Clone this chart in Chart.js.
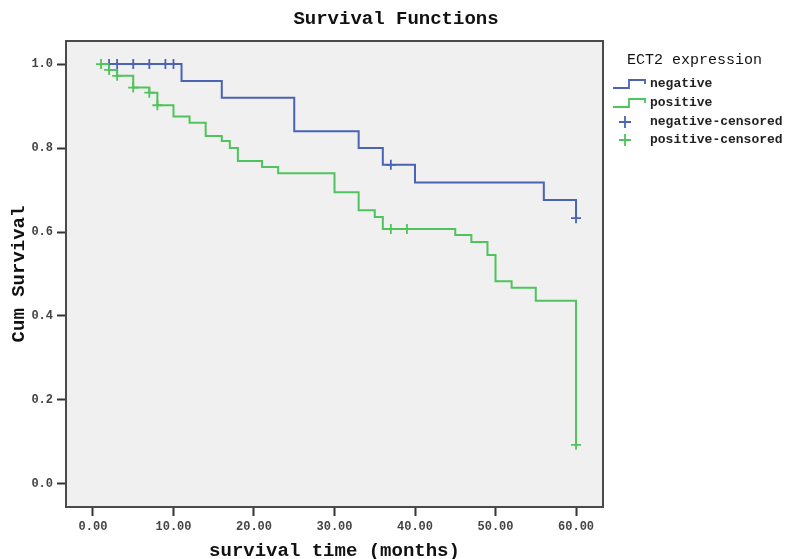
<!DOCTYPE html>
<html>
<head>
<meta charset="utf-8">
<title>Survival Functions</title>
<script src="https://cdn.jsdelivr.net/npm/chart.js@4.4.1/dist/chart.umd.min.js"></script>
<style>
  body { margin: 0; background: #fff; }
  #wrap { width: 788px; height: 559px; }
</style>
</head>
<body>
<div id="wrap"><canvas id="km" width="788" height="559"></canvas></div>
<script>
// Kaplan-Meier steps (time in months, cum survival)
const negTime = [2, 11, 16, 25, 33, 36, 40, 56, 60];
const negSurv = [1.0, 0.96, 0.92, 0.84, 0.80, 0.76, 0.718, 0.676, 0.633];
const posTime = [1, 2, 3, 5, 7, 8, 10, 12, 14, 16, 17, 18, 21, 23, 30, 33, 35, 36, 45, 47, 49, 50, 52, 55, 60];
const posSurv = [1.0, 0.986, 0.972, 0.944, 0.932, 0.902, 0.875, 0.86, 0.829, 0.817, 0.80, 0.769, 0.755, 0.74, 0.695, 0.652, 0.636, 0.607, 0.593, 0.576, 0.545, 0.483, 0.467, 0.436, 0.093];

// censored cases
const negCensTime = [2, 3, 5, 7, 9, 10, 37, 60];
const negCensSurv = [1.0, 1.0, 1.0, 1.0, 1.0, 1.0, 0.76, 0.633];
const posCensTime = [1, 2, 3, 5, 7, 8, 37, 39, 60];
const posCensSurv = [1.0, 0.986, 0.972, 0.944, 0.932, 0.902, 0.607, 0.607, 0.093];

const xTicks = [0, 10, 20, 30, 40, 50, 60];
const yTicks = [0, 0.2, 0.4, 0.6, 0.8, 1.0];

const negColor = "#4a63b5";
const posColor = "#4fc35c";

const toPts = (xs, ys) => xs.map((x, i) => ({ x: x, y: ys[i] }));

Chart.defaults.font.family = "'Liberation Mono', 'DejaVu Sans Mono', monospace";
Chart.defaults.color = "#333";

// background, frame, title and legend (SPSS look)
const spssLook = {
  id: "spssLook",
  beforeDatasetsDraw(chart) {
    const { ctx, chartArea: a } = chart;
    ctx.save();
    ctx.fillStyle = "#f0f0f0";
    ctx.fillRect(a.left, a.top, a.right - a.left, a.bottom - a.top);
    ctx.restore();
  },
  afterDraw(chart) {
    const { ctx, chartArea: a } = chart;
    ctx.save();
    // frame
    ctx.strokeStyle = "#4a4a4a";
    ctx.lineWidth = 2;
    ctx.strokeRect(a.left, a.top, a.right - a.left, a.bottom - a.top);

    // title
    ctx.fillStyle = "#111";
    ctx.textAlign = "center";
    ctx.textBaseline = "middle";
    ctx.font = "bold 19px 'Liberation Mono'";
    ctx.fillText("Survival Functions", 396, 19);

    // legend
    ctx.textAlign = "left";
    ctx.font = "15px 'Liberation Mono'";
    ctx.fillText("ECT2 expression", 627, 60);

    ctx.font = "bold 13px 'Liberation Mono'";
    const items = [
      { label: "negative", color: negColor, step: true, y: 84 },
      { label: "positive", color: posColor, step: true, y: 103 },
      { label: "negative-censored", color: negColor, step: false, y: 122 },
      { label: "positive-censored", color: posColor, step: false, y: 140 }
    ];
    items.forEach(it => {
      ctx.strokeStyle = it.color;
      ctx.lineWidth = 1.8;
      ctx.beginPath();
      if (it.step) {
        ctx.moveTo(613, it.y + 4);
        ctx.lineTo(629, it.y + 4);
        ctx.lineTo(629, it.y - 4);
        ctx.lineTo(645, it.y - 4);
        ctx.lineTo(645, it.y);
      } else {
        ctx.moveTo(619, it.y);
        ctx.lineTo(631, it.y);
        ctx.moveTo(625, it.y - 6);
        ctx.lineTo(625, it.y + 6);
      }
      ctx.stroke();
      ctx.fillStyle = "#222";
      ctx.fillText(it.label, 650, it.y);
    });
    ctx.restore();
  }
};

new Chart(document.getElementById("km"), {
  type: "line",
  data: {
    datasets: [
      {
        label: "negative",
        data: toPts(negTime, negSurv),
        borderColor: negColor,
        borderWidth: 2,
        stepped: true,
        pointRadius: 0,
        fill: false
      },
      {
        label: "positive",
        data: toPts(posTime, posSurv),
        borderColor: posColor,
        borderWidth: 2,
        stepped: true,
        pointRadius: 0,
        fill: false
      },
      {
        label: "negative-censored",
        data: toPts(negCensTime, negCensSurv),
        showLine: false,
        pointStyle: "cross",
        pointRadius: 5,
        pointBorderWidth: 1.8,
        borderColor: negColor,
        backgroundColor: negColor
      },
      {
        label: "positive-censored",
        data: toPts(posCensTime, posCensSurv),
        showLine: false,
        pointStyle: "cross",
        pointRadius: 5,
        pointBorderWidth: 1.8,
        borderColor: posColor,
        backgroundColor: posColor
      }
    ]
  },
  options: {
    responsive: false,
    animation: false,
    layout: { padding: { top: 41, right: 185, left: 0, bottom: 0 } },
    plugins: {
      legend: { display: false },
      tooltip: { enabled: false },
      title: { display: false }
    },
    scales: {
      x: {
        type: "linear",
        min: -3.35,
        max: 63.35,
        afterBuildTicks: s => { s.ticks = xTicks.map(v => ({ value: v })); },
        afterFit: s => { s.height = 52; },
        ticks: {
          callback: v => Number(v).toFixed(2),
          font: { size: 12, weight: "bold" },
          color: "#444",
          padding: 4,
          maxRotation: 0
        },
        grid: { drawOnChartArea: false, tickLength: 9, tickColor: "#333", tickWidth: 2 },
        border: { display: false },
        title: {
          display: true,
          text: "survival time (months)",
          font: { size: 19, weight: "bold", lineHeight: 1 },
          color: "#111",
          padding: { top: 0, bottom: -2 }
        }
      },
      y: {
        type: "linear",
        min: -0.055,
        max: 1.055,
        afterBuildTicks: s => { s.ticks = yTicks.map(v => ({ value: v })); },
        afterFit: s => { s.width = 66; },
        ticks: {
          callback: v => Number(v).toFixed(1),
          font: { size: 12, weight: "bold" },
          color: "#444",
          padding: 4
        },
        grid: { drawOnChartArea: false, tickLength: 9, tickColor: "#333", tickWidth: 2 },
        border: { display: false },
        title: {
          display: true,
          text: "Cum Survival",
          font: { size: 19, weight: "bold", lineHeight: 1 },
          color: "#111",
          padding: { top: 10, bottom: 0 }
        }
      }
    }
  },
  plugins: [spssLook]
});
</script>
</body>
</html>
